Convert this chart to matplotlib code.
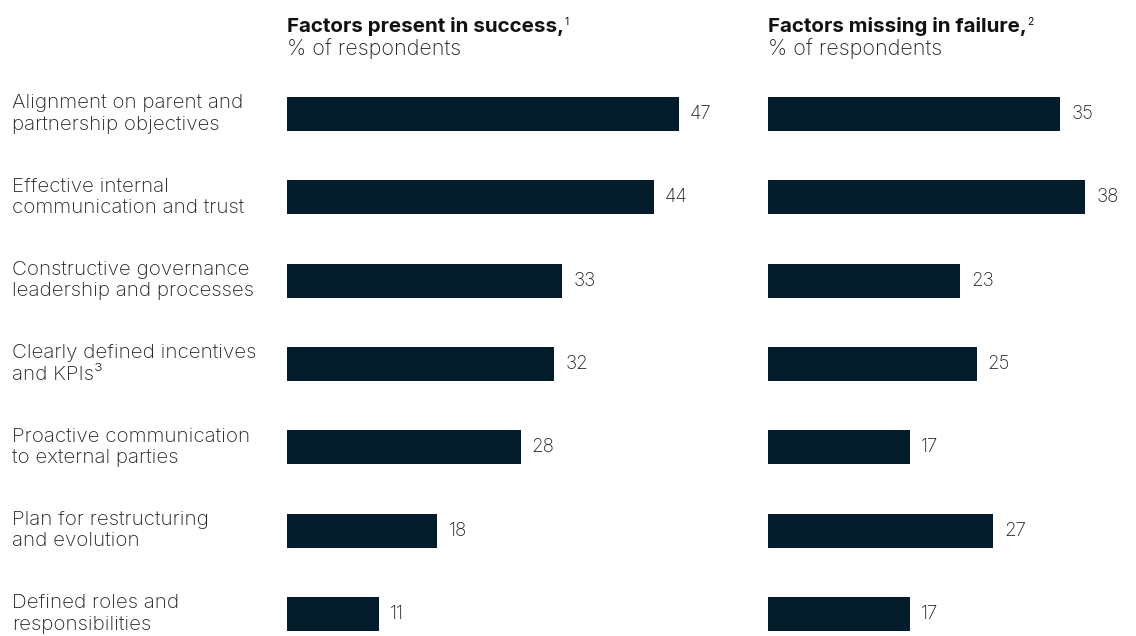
import matplotlib.pyplot as plt

plt.rcParams['font.family'] = ['Inter', 'DejaVu Sans']

factors = [
    "Alignment on parent and\npartnership objectives",
    "Effective internal\ncommunication and trust",
    "Constructive governance\nleadership and processes",
    "Clearly defined incentives\nand KPIs\u00b3",
    "Proactive communication\nto external parties",
    "Plan for restructuring\nand evolution",
    "Defined roles and\nresponsibilities",
]
success = [47, 44, 33, 32, 28, 18, 11]
failure = [35, 38, 23, 25, 17, 27, 17]

titles = ["Factors present in success,", "Factors missing in failure,"]
title_notes = ["1", "2"]
subtitle = "% of respondents"

navy = '#051C2C'
W, H = 1136, 636
fig = plt.figure(figsize=(W / 100, H / 100), dpi=100)

# shared scale: ~8.34 px per percentage point, rows 83.3 px apart
px_per_unit = 8.34
row_px = 83.33
top_px = 114 - row_px / 2
ymax = 6 + (H - 614) / row_px
ax_h = (H - top_px) / H
xmax = 52
ax_w = xmax * px_per_unit / W

rows = list(range(len(factors)))
for x0, vals, title, note in [(287, success, titles[0], title_notes[0]),
                              (768, failure, titles[1], title_notes[1])]:
    ax = fig.add_axes([x0 / W, 0, ax_w, ax_h])
    ax.barh(rows, vals, height=34 / row_px, color=navy)
    for r, v in zip(rows, vals):
        ax.text(v + 1.35, r, str(v), va='center', ha='left',
                fontsize=13.5, color='#222222', fontweight='light')
    ax.set_xlim(0, xmax)
    ax.set_ylim(ymax, -0.5)
    ax.axis('off')

    t = fig.text(x0 / W, 1 - 17 / H, title, fontsize=14.8, fontweight='bold',
                 va='top', ha='left', color='#111111')
    fig.text(x0 / W, 1 - 38 / H, subtitle, fontsize=15.5, fontweight='light',
             va='top', ha='left', color='#222222')
    fig.canvas.draw()
    ax.annotate(note, xy=(1, 1), xycoords=t, xytext=(0.5, 0),
                textcoords='offset points', fontsize=7.5, va='top', ha='left',
                color='#111111')

# row labels on the left
for r, lab in zip(rows, factors):
    y = 1 - (114 + r * row_px) / H
    fig.text(12 / W, y, lab, fontsize=14.8, va='center', ha='left',
             color='#222222', linespacing=1.22, fontweight='light')

fig.savefig('out.png', dpi=100, facecolor='white')
